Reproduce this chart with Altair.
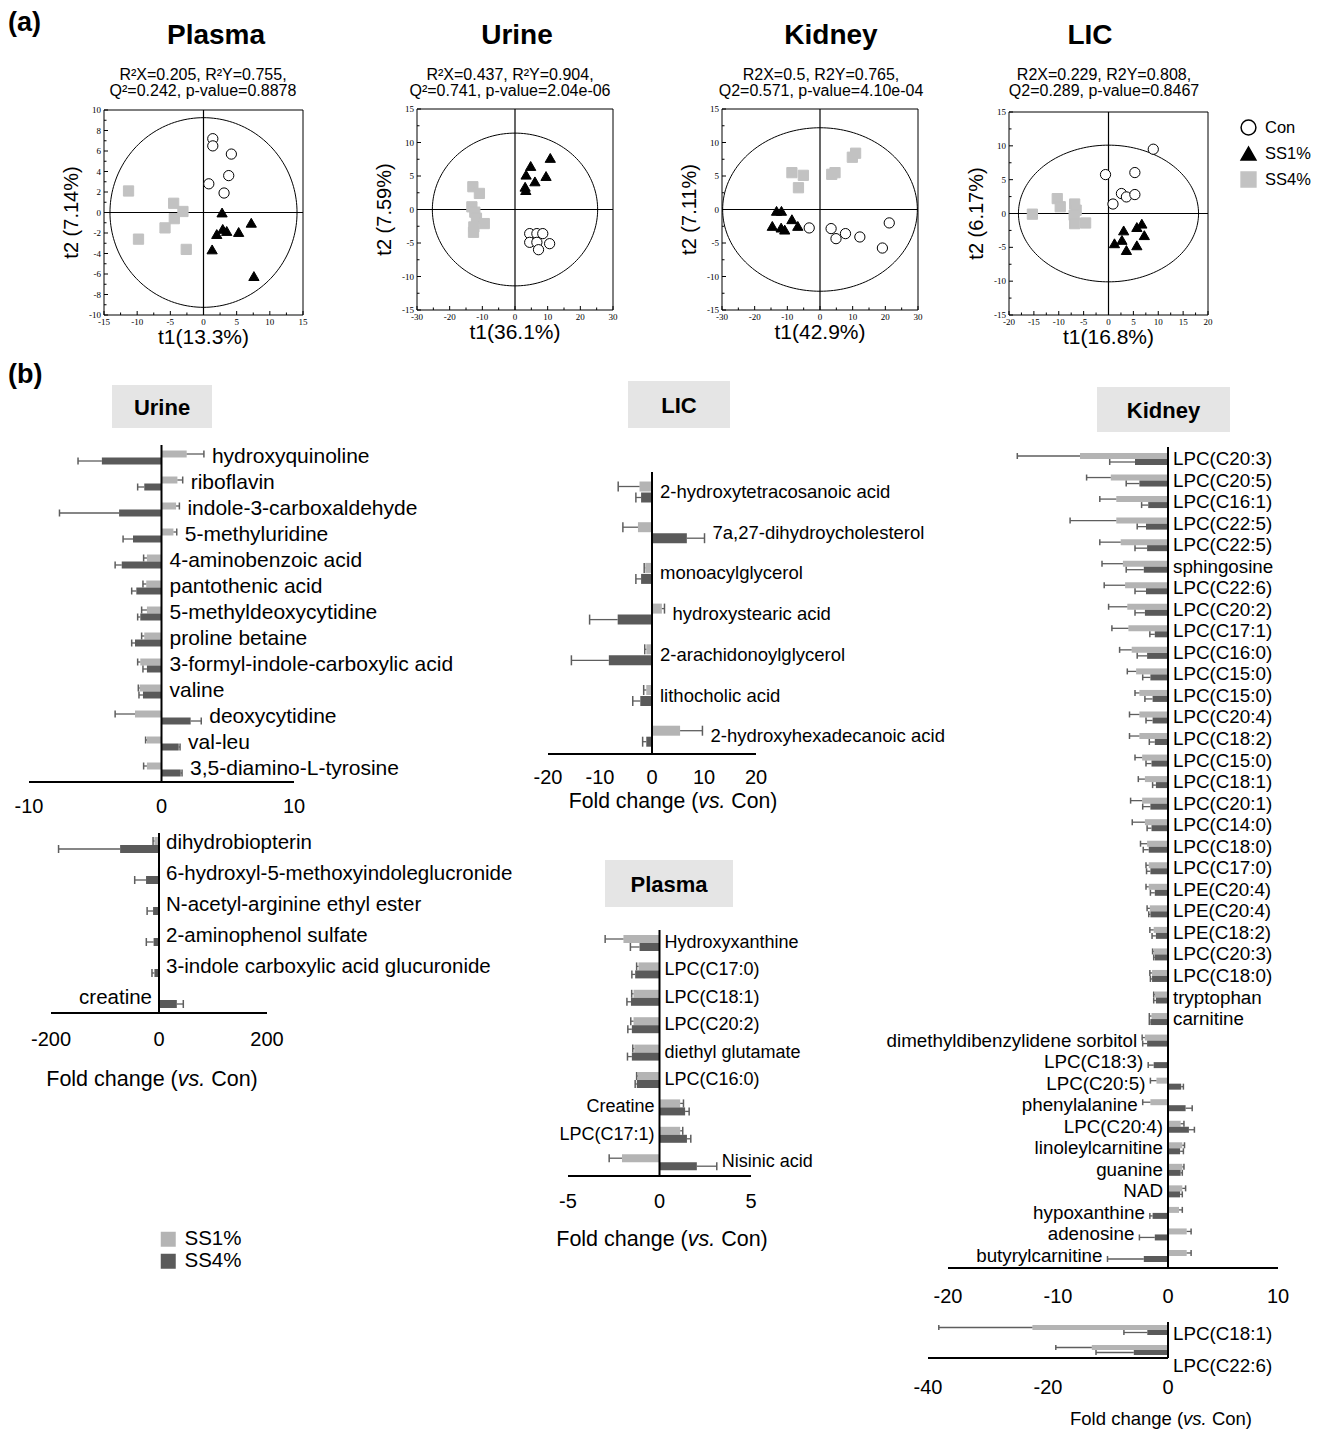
import altair as alt
import numpy as np
import pandas as pd

FONT = "Liberation Sans"
SERIF = "Liberation Serif"
LIGHT = "#b4b4b4"
DARK = "#5a5a5a"
ERRC = "#5e5e5e"
BOX = "#e5e5e5"
CW, CH = 1308, 1421          # whole drawing (page minus the 8px margins)

# ---------------- (a) score plots ----------------
plasma_con_x = [1.4, 1.4, 4.2, 3.8, 0.8, 3.1]
plasma_con_y = [7.2, 6.5, 5.7, 3.6, 2.8, 1.9]
plasma_ss1_x = [2.8, 7.2, 2.9, 3.5, 5.3, 2.0, 1.3, 7.6]
plasma_ss1_y = [0.0, -1.0, -1.6, -1.8, -1.9, -2.1, -3.6, -6.2]
plasma_ss4_x = [-11.3, -4.5, -3.1, -4.4, -5.8, -9.8, -2.6]
plasma_ss4_y = [2.1, 0.9, 0.1, -0.6, -1.5, -2.6, -3.6]

urine_con_x = [4.5, 6.7, 8.5, 4.5, 6.7, 10.6, 7.2]
urine_con_y = [-3.6, -3.6, -3.6, -4.9, -4.9, -5.1, -6.0]
urine_ss1_x = [4.8, 10.8, 3.4, 9.5, 6.1, 3.1, 3.3]
urine_ss1_y = [6.5, 7.7, 5.2, 5.0, 4.2, 3.4, 2.9]
urine_ss4_x = [-12.9, -10.9, -13.2, -12.3, -11.8, -9.4, -12.6, -12.7]
urine_ss4_y = [3.4, 2.4, 0.4, -0.4, -1.3, -2.1, -2.6, -3.4]

kidney_con_x = [-3.3, 3.4, 4.9, 7.8, 12.2, 21.2, 19.1]
kidney_con_y = [-2.75, -2.85, -4.35, -3.6, -4.1, -2.0, -5.75]
kidney_ss1_x = [-13.3, -11.8, -8.6, -14.6, -11.9, -10.8, -6.8]
kidney_ss1_y = [-0.2, -0.2, -1.45, -2.45, -2.7, -3.0, -2.45]
kidney_ss4_x = [-8.6, -5.1, -6.6, 3.6, 4.6, 9.9, 10.9]
kidney_ss4_y = [5.5, 5.1, 3.25, 5.25, 5.5, 7.8, 8.4]

lic_con_x = [9.0, -0.6, 5.3, 2.6, 3.6, 5.3, 0.9]
lic_con_y = [9.5, 5.75, 6.05, 2.95, 2.45, 2.8, 1.4]
lic_ss1_x = [6.7, 5.7, 3.05, 7.2, 2.7, 1.2, 5.7, 3.6]
lic_ss1_y = [-1.5, -2.0, -2.5, -3.2, -3.9, -4.4, -4.7, -5.4]
lic_ss4_x = [-15.3, -10.3, -9.7, -6.8, -6.5, -6.9, -6.8, -4.6]
lic_ss4_y = [-0.1, 2.2, 1.0, 1.4, 0.5, -0.25, -1.5, -1.4]

GROUPS = ["Con", "SS1%", "SS4%"]
DIETS = ["SS1%", "SS4%"]

# ---------------- (b) fold-change bars ----------------
urine1_names = ["hydroxyquinoline", "riboflavin", "indole-3-carboxaldehyde", "5-methyluridine",
                "4-aminobenzoic acid", "pantothenic acid", "5-methyldeoxycytidine", "proline betaine",
                "3-formyl-indole-carboxylic acid", "valine", "deoxycytidine", "val-leu",
                "3,5-diamino-L-tyrosine"]
urine1_ss1 = [1.9, 1.2, 1.1, 0.9, -1.1, -1.15, -1.1, -1.3, -1.6, -1.65, -2.0, -1.1, -1.1]
urine1_ss1_err = [1.3, 0.4, 0.25, 0.25, 0.25, 0.25, 0.4, 0.2, 0.2, 0.1, 1.5, 0.1, 0.25]
urine1_ss4 = [-4.5, -1.3, -3.2, -2.15, -3.0, -1.9, -1.6, -2.0, -1.1, -1.4, 2.2, 1.3, 1.45]
urine1_ss4_err = [1.8, 0.5, 4.5, 0.75, 0.5, 0.35, 0.2, 0.25, 0.3, 0.3, 0.8, 0.1, 0.1]
urine1_side = ["R"] * 13

urine2_names = ["dihydrobiopterin", "6-hydroxyl-5-methoxyindoleglucronide", "N-acetyl-arginine ethyl ester",
                "2-aminophenol sulfate", "3-indole carboxylic acid glucuronide", "creatine"]
urine2_ss1 = [-8.5, -2.0, -1.0, -1.0, -1.0, 1.0]
urine2_ss1_err = [2.5, 0, 0, 0, 0, 0]
urine2_ss4 = [-72.0, -24.0, -11.0, -10.0, -8.5, 33.0]
urine2_ss4_err = [114.0, 21.0, 11.0, 13.5, 4.5, 12.0]
urine2_side = ["R", "R", "R", "R", "R", "L"]

lic_names = ["2-hydroxytetracosanoic acid", "7a,27-dihydroycholesterol", "monoacylglycerol",
             "hydroxystearic acid", "2-arachidonoylglycerol", "lithocholic acid",
             "2-hydroxyhexadecanoic acid"]
lic_ss1 = [-2.4, -2.7, -1.3, 1.9, -1.1, -1.1, 5.4]
lic_ss1_err = [4.1, 2.9, 0.2, 0.5, 0.3, 0.5, 4.3]
lic_ss4 = [-2.1, 6.7, -2.1, -6.6, -8.3, -2.25, -1.1]
lic_ss4_err = [1.0, 3.4, 1.0, 5.4, 7.2, 1.45, 0.7]
lic_side = ["R"] * 7

plasma_names = ["Hydroxyxanthine", "LPC(C17:0)", "LPC(C18:1)", "LPC(C20:2)", "diethyl glutamate",
                "LPC(C16:0)", "Creatine", "LPC(C17:1)", "Nisinic acid"]
plasma_ss1 = [-1.97, -1.15, -1.42, -1.42, -1.38, -1.2, 1.13, 1.13, -2.05]
plasma_ss1_err = [1.0, 0.1, 0.1, 0.15, 0.08, 0.05, 0.18, 0.14, 0.7]
plasma_ss4 = [-1.09, -1.33, -1.56, -1.51, -1.51, -1.24, 1.4, 1.5, 2.04]
plasma_ss4_err = [0.5, 0.18, 0.22, 0.22, 0.24, 0.09, 0.22, 0.21, 1.09]
plasma_side = ["R", "R", "R", "R", "R", "R", "L", "L", "R"]

kidney1_names = ["LPC(C20:3)", "LPC(C20:5)", "LPC(C16:1)", "LPC(C22:5)", "LPC(C22:5)", "sphingosine",
                 "LPC(C22:6)", "LPC(C20:2)", "LPC(C17:1)", "LPC(C16:0)", "LPC(C15:0)", "LPC(C15:0)",
                 "LPC(C20:4)", "LPC(C18:2)", "LPC(C15:0)", "LPC(C18:1)", "LPC(C20:1)", "LPC(C14:0)",
                 "LPC(C18:0)", "LPC(C17:0)", "LPE(C20:4)", "LPE(C20:4)", "LPE(C18:2)", "LPC(C20:3)",
                 "LPC(C18:0)", "tryptophan", "carnitine", "dimethyldibenzylidene sorbitol", "LPC(C18:3)",
                 "LPC(C20:5)", "phenylalanine", "LPC(C20:4)", "linoleylcarnitine", "guanine", "NAD",
                 "hypoxanthine", "adenosine", "butyrylcarnitine"]
kidney1_ss1 = [-8.0, -5.2, -4.7, -4.7, -4.3, -4.1, -3.9, -3.7, -3.6, -3.3, -2.9, -2.6, -2.6, -2.6,
               -2.35, -2.1, -2.35, -2.1, -1.9, -1.75, -1.75, -1.65, -1.3, -1.3, -1.45, -1.2, -1.5,
               -2.1, 0.0, -1.05, -1.6, 1.15, 1.3, 1.3, 1.3, 1.0, 1.7, 1.7]
kidney1_ss1_err = [5.7, 2.2, 1.5, 4.2, 1.9, 1.9, 1.9, 1.7, 1.5, 1.1, 0.8, 0.4, 0.9, 0.9, 0.65, 0.6,
                   1.05, 1.15, 0.6, 0.25, 0.25, 0.25, 0.35, 0.1, 0.2, 0.1, 0.2, 0.25, 0.0, 0.55, 0.7,
                   0.3, 0.2, 0.15, 0.3, 0.3, 0.4, 0.4]
kidney1_ss4 = [-3.0, -2.6, -1.8, -2.0, -1.9, -2.2, -2.0, -2.1, -1.2, -1.9, -1.6, -1.4, -1.4, -1.2,
               -1.5, -1.1, -1.6, -1.5, -1.75, -1.6, -1.2, -1.6, -1.1, -1.2, -1.45, -1.1, -1.6, -1.9,
               -1.3, 1.2, 1.6, 1.9, 1.1, 1.15, 1.1, -1.4, -1.2, -2.2]
kidney1_ss4_err = [2.3, 1.2, 0.6, 0.8, 1.1, 1.6, 1.0, 0.9, 0.45, 0.9, 0.7, 0.7, 0.6, 0.5, 0.5, 0.3,
                   0.7, 0.4, 0.5, 0.35, 0.4, 0.15, 0.35, 0.1, 0.15, 0.2, 0.1, 0.4, 0.5, 0.2, 0.6,
                   0.5, 0.3, 0.15, 0.2, 0.25, 1.4, 3.3]
kidney1_side = ["R"] * 27 + ["L"] * 11

kidney2_names = ["LPC(C18:1)", "LPC(C22:6)"]
kidney2_ss1 = [-22.6, -12.7]
kidney2_ss1_err = [15.6, 6.0]
kidney2_ss4 = [-3.45, -5.7]
kidney2_ss4_err = [3.9, 6.3]
kidney2_side = ["R", "R"]

ONE = pd.DataFrame({"k": [0]})

score_legend = dict(title=None, orient="none", legendX=1232, legendY=111, labelFontSize=16.5,
                    labelFont=FONT, labelColor="black", symbolSize=220, symbolStrokeWidth=1.5,
                    rowPadding=6, labelOffset=8)
bar_legend = dict(title=None, orient="none", legendX=150, legendY=1221, symbolType="square",
                  symbolSize=225, symbolStrokeWidth=0, labelFontSize=20.5, labelFont=FONT,
                  labelColor="black", rowPadding=1, labelOffset=6)


def scale(dom, rng):
    return alt.Scale(domain=dom, range=rng, nice=False, zero=False, padding=0)


def txt(text, px, py, fs, weight="normal", align="left", baseline="middle", style="normal", angle=0,
        font=FONT):
    """decoration text at page coordinates"""
    return alt.Chart(ONE).mark_text(text=text, align=align, baseline=baseline, fontSize=fs,
                                    fontWeight=weight, fontStyle=style, font=font, angle=angle,
                                    color="black").encode(x=alt.value(px - 8), y=alt.value(py - 8))


def title_box(label, x0, x1, y0, y1, fs=22):
    rect = alt.Chart(ONE).mark_rect(color=BOX).encode(
        x=alt.value(x0 - 8), x2=alt.value(x1 - 8), y=alt.value(y0 - 8), y2=alt.value(y1 - 8))
    return [rect, txt(label, (x0 + x1) / 2, (y0 + y1) / 2 + 1, fs, weight="bold", align="center")]


def fold_title(cx, cy, fs):
    # advance widths of Liberation Sans (Arial metrics)
    w1, w2, wsp, w3 = 6.114 * fs, 1.278 * fs, 0.278 * fs, 2.167 * fs
    x0 = cx - (w1 + w2 + wsp + w3) / 2
    return [txt("Fold change (", x0, cy, fs),
            txt("vs.", x0 + w1, cy, fs, style="italic"),
            txt("Con)", x0 + w1 + w2 + wsp, cy, fs)]


def score_plot(title, tcx, sub, scx, xtitle, ytitle, box, xdom, ydom, xstep, xlab, ystep, ylab, ea, eb, pts):
    L, T, R, B = box
    cx, cy, sx, sy, qx, qy = pts
    rows = []
    for g, xs_, ys_ in (("Con", cx, cy), ("SS1%", sx, sy), ("SS4%", qx, qy)):
        for a, b in zip(xs_, ys_):
            rows.append({"t1": a, "t2": b, "grp": g})
    df = pd.DataFrame(rows)
    xs = scale(xdom, [L - 8, R - 8])
    ys = scale(ydom, [B - 8, T - 8])
    X = lambda f: alt.X(f, scale=xs, axis=None)
    Y = lambda f: alt.Y(f, scale=ys, axis=None)

    t = np.linspace(0, 2 * np.pi, 181)
    ell = pd.DataFrame({"k": np.arange(len(t)), "t1": ea * np.cos(t), "t2": eb * np.sin(t)})
    ell_l = alt.Chart(ell).mark_line(color="black", strokeWidth=1).encode(
        x=X("t1:Q"), y=Y("t2:Q"), order="k:Q")
    lim = pd.DataFrame({"z": [0.0], "x0": [xdom[0]], "x1": [xdom[1]], "y0": [ydom[0]], "y1": [ydom[1]]})
    frame = alt.Chart(lim).mark_rect(fillOpacity=0, stroke="black", strokeWidth=1).encode(
        x=X("x0:Q"), x2="x1:Q", y=Y("y0:Q"), y2="y1:Q")
    vline = alt.Chart(lim).mark_rule(color="black", strokeWidth=1.2).encode(
        x=X("z:Q"), y=Y("y0:Q"), y2="y1:Q")
    hline = alt.Chart(lim).mark_rule(color="black", strokeWidth=1.2).encode(
        y=Y("z:Q"), x=X("x0:Q"), x2="x1:Q")

    # axis ticks (inward, as in the figure) and labels
    xt = [float(v) for v in np.arange(xdom[0], xdom[1] + xstep / 2, xstep)]
    yt = [float(v) for v in np.arange(ydom[0], ydom[1] + ystep / 2, ystep)]
    xtd = pd.DataFrame({"v": xt, "y0": [ydom[0]] * len(xt),
                        "major": [abs(v % xlab) < 0.01 for v in xt], "lab": [f"{v:g}" for v in xt]})
    ytd = pd.DataFrame({"v": yt, "x0": [xdom[0]] * len(yt),
                        "major": [abs(v % ylab) < 0.01 for v in yt], "lab": [f"{v:g}" for v in yt]})
    layers = []
    for flt, ln in (("datum.major", 4), ("!datum.major", 2.5)):
        layers.append(alt.Chart(xtd).transform_filter(flt).mark_rule(color="black", strokeWidth=1).encode(
            x=X("v:Q"), y=Y("y0:Q"), y2=alt.value(B - 8 - ln)))
        layers.append(alt.Chart(ytd).transform_filter(flt).mark_rule(color="black", strokeWidth=1).encode(
            y=Y("v:Q"), x=X("x0:Q"), x2=alt.value(L - 8 + ln)))
    layers.append(alt.Chart(xtd).transform_filter("datum.major").mark_text(
        font=SERIF, fontSize=9, baseline="top", align="center", color="black").encode(
        x=X("v:Q"), y=alt.value(B - 8 + 3), text="lab:N"))
    layers.append(alt.Chart(ytd).transform_filter("datum.major").mark_text(
        font=SERIF, fontSize=9, baseline="middle", align="right", color="black").encode(
        y=Y("v:Q"), x=alt.value(L - 8 - 3), text="lab:N"))

    points = alt.Chart(df).mark_point(filled=True, size=105, strokeWidth=1, opacity=1).encode(
        x=X("t1:Q"), y=Y("t2:Q"),
        shape=alt.Shape("grp:N", scale=alt.Scale(domain=GROUPS, range=["circle", "triangle-up", "square"]),
                        legend=alt.Legend(**score_legend)),
        fill=alt.Fill("grp:N", scale=alt.Scale(domain=GROUPS, range=["white", "black", "#c2c2c2"]),
                      legend=alt.Legend(**score_legend)),
        stroke=alt.Stroke("grp:N", scale=alt.Scale(domain=GROUPS, range=["black", "black", "#c2c2c2"]),
                          legend=alt.Legend(**score_legend)),
    )
    deco = [txt(title, tcx, 36, 28, weight="bold", align="center"),
            txt(sub[0], scx, 75, 16, align="center"),
            txt(sub[1], scx, 91, 16, align="center"),
            txt(xtitle, (L + R) / 2, B + 23, 21, align="center"),
            txt(ytitle, L - 32, (T + B) / 2, 20, align="center", angle=270)]
    return alt.layer(ell_l, frame, vline, hline, *layers, points, *deco)


def bar_panel(names, v1, e1, v4, e4, side, xdom, xpix, xticks, axis_y, label_y, c0, step, off, thick,
              ztop, pad, fs, lab_dy, extras=()):
    n = len(names)
    ys = scale([0, n - 1], [c0 - 8, c0 - 8 + (n - 1) * step])
    xs = scale(xdom, [xpix[0] - 8, xpix[1] - 8])
    X = lambda f: alt.X(f, scale=xs, axis=None)
    Y = lambda f: alt.Y(f, scale=ys, axis=None)
    dys = lab_dy if isinstance(lab_dy, list) else [lab_dy] * n
    rows, labs = [], []
    for i in range(n):
        ends = [0.0]
        for g, v, e, o in (("SS1%", v1[i], e1[i], -off), ("SS4%", v4[i], e4[i], off)):
            sgn = 1 if v >= 0 else -1
            end = v + sgn * e
            ends += [v, end]
            rows.append({"i": i, "diet": g, "v": v, "z": 0.0, "e": e, "end": end,
                         "pos": i + o / step, "cap0": i + (o - thick / 2) / step,
                         "cap1": i + (o + thick / 2) / step})
        anchor = max(ends) if side[i] == "R" else min(ends)
        labs.append({"name": names[i], "yl": i + dys[i] / step, "ax": anchor, "side": side[i]})
    d = pd.DataFrame(rows)
    lab = pd.DataFrame(labs)
    bars = alt.Chart(d).mark_bar(size=thick, orient="horizontal").encode(
        x=X("v:Q"), x2="z:Q", y=Y("pos:Q"),
        color=alt.Color("diet:N", scale=alt.Scale(domain=DIETS, range=[LIGHT, DARK]),
                        legend=alt.Legend(**bar_legend)))
    err = alt.Chart(d).transform_filter("datum.e > 0").mark_rule(color=ERRC, strokeWidth=1.3).encode(
        x=X("v:Q"), x2="end:Q", y=Y("pos:Q"))
    cap = alt.Chart(d).transform_filter("datum.e > 0").mark_rule(color=ERRC, strokeWidth=1.5).encode(
        x=X("end:Q"), y=Y("cap0:Q"), y2="cap1:Q")
    ya = (axis_y - c0) / step
    zl = pd.DataFrame({"z": [0.0], "y0": [(ztop - c0) / step], "y1": [ya],
                       "x0": [xdom[0]], "x1": [xdom[1]]})
    zero = alt.Chart(zl).mark_rule(color="black", strokeWidth=2).encode(
        x=X("z:Q"), y=Y("y0:Q"), y2="y1:Q")
    axis_line = alt.Chart(zl).mark_rule(color="black", strokeWidth=2).encode(
        x=X("x0:Q"), x2="x1:Q", y=Y("y1:Q"))
    tdf = pd.DataFrame({"v": xticks, "lab": [str(t) for t in xticks]})
    tick_labels = alt.Chart(tdf).mark_text(font=FONT, fontSize=20, color="black", align="center",
                                           baseline="middle").encode(
        x=X("v:Q"), y=alt.value(label_y - 8), text="lab:N")
    rlab = alt.Chart(lab).transform_filter("datum.side == 'R'").mark_text(
        align="left", baseline="middle", dx=pad, fontSize=fs, font=FONT, color="black").encode(
        x=X("ax:Q"), y=Y("yl:Q"), text="name:N")
    llab = alt.Chart(lab).transform_filter("datum.side == 'L'").mark_text(
        align="right", baseline="middle", dx=-pad, fontSize=fs, font=FONT, color="black").encode(
        x=X("ax:Q"), y=Y("yl:Q"), text="name:N")
    return alt.layer(bars, err, cap, zero, axis_line, tick_labels, rlab, llab, *extras)


# ---------- (a) ----------
plasma_sc = score_plot("Plasma", 216, ["R²X=0.205, R²Y=0.755,", "Q²=0.242, p-value=0.8878"], 203,
                       "t1(13.3%)", "t2 (7.14%)", (104, 110, 303, 315), [-15, 15], [-10, 10],
                       2.5, 5, 1, 2, 14.1, 9.25,
                       (plasma_con_x, plasma_con_y, plasma_ss1_x, plasma_ss1_y, plasma_ss4_x, plasma_ss4_y))
urine_sc = score_plot("Urine", 517, ["R²X=0.437, R²Y=0.904,", "Q²=0.741, p-value=2.04e-06"], 510,
                      "t1(36.1%)", "t2 (7.59%)", (417, 109, 613, 310), [-30, 30], [-15, 15],
                      5, 10, 2.5, 5, 25.3, 11.4,
                      (urine_con_x, urine_con_y, urine_ss1_x, urine_ss1_y, urine_ss4_x, urine_ss4_y))
kidney_sc = score_plot("Kidney", 831, ["R2X=0.5, R2Y=0.765,", "Q2=0.571, p-value=4.10e-04"], 821,
                       "t1(42.9%)", "t2 (7.11%)", (722, 109, 918, 310), [-30, 30], [-15, 15],
                       5, 10, 2.5, 5, 29.8, 12.2,
                       (kidney_con_x, kidney_con_y, kidney_ss1_x, kidney_ss1_y, kidney_ss4_x, kidney_ss4_y))
lic_sc = score_plot("LIC", 1090, ["R2X=0.229, R2Y=0.808,", "Q2=0.289, p-value=0.8467"], 1104,
                    "t1(16.8%)", "t2 (6.17%)", (1009, 112, 1208, 315), [-20, 20], [-15, 15],
                    2.5, 5, 2.5, 5, 18.1, 10.1,
                    (lic_con_x, lic_con_y, lic_ss1_x, lic_ss1_y, lic_ss4_x, lic_ss4_y))

# ---------- (b) ----------
urine_top = bar_panel(urine1_names, urine1_ss1, urine1_ss1_err, urine1_ss4, urine1_ss4_err, urine1_side,
                      [-10, 10], (29, 294), [-10, 0, 10], 782, 807, 457.5, 26, 3.5, 7, 445, 8, 21, -1,
                      extras=title_box("Urine", 112, 212, 385, 428))
urine_bot = bar_panel(urine2_names, urine2_ss1, urine2_ss1_err, urine2_ss4, urine2_ss4_err, urine2_side,
                      [-200, 200], (51, 267), [-200, 0, 200], 1013, 1040, 845, 31, 4, 8, 833, 7, 20.5, -2,
                      extras=fold_title(152, 1080, 21.5))
lic_bar = bar_panel(lic_names, lic_ss1, lic_ss1_err, lic_ss4, lic_ss4_err, lic_side,
                    [-20, 20], (548, 756), [-20, -10, 0, 10, 20], 754, 778, 492, 40.7, 5.5, 10, 472, 8, 18.5, 0,
                    extras=title_box("LIC", 628, 730, 381, 428) + fold_title(673, 802, 21.2))
plasma_bar = bar_panel(plasma_names, plasma_ss1, plasma_ss1_err, plasma_ss4, plasma_ss4_err, plasma_side,
                       [-5, 5], (568, 751), [-5, 0, 5], 1176, 1202, 943, 27.4, 4, 8, 930, 5, 18, 0,
                       extras=title_box("Plasma", 605, 733, 860, 907) + fold_title(662, 1240, 21.5))
kid_top = bar_panel(kidney1_names, kidney1_ss1, kidney1_ss1_err, kidney1_ss4, kidney1_ss4_err, kidney1_side,
                    [-20, 10], (948, 1278), [-20, -10, 0, 10], 1268, 1297, 459, 21.54, 3, 6, 447, 5, 18.8, 0,
                    extras=title_box("Kidney", 1097, 1230, 387, 432))
kid_bot = bar_panel(kidney2_names, kidney2_ss1, kidney2_ss1_err, kidney2_ss4, kidney2_ss4_err, kidney2_side,
                    [-40, 0], (928, 1168), [-40, -20, 0], 1358, 1388, 1330, 20, 2.5, 5, 1322, 5, 18.8, [4, 16],
                    extras=fold_title(1161, 1419, 18.5))

labels = [txt("(a)", 8, 10, 27, weight="bold", baseline="top"),
          txt("(b)", 8, 362, 27, weight="bold", baseline="top")]

chart = alt.layer(plasma_sc, urine_sc, kidney_sc, lic_sc,
                  urine_top, urine_bot, lic_bar, plasma_bar, kid_top, kid_bot, *labels).resolve_scale(
    x="independent", y="independent").properties(
    width=CW, height=CH, padding=0, autosize=alt.AutoSizeParams(type="none")).configure(
    font=FONT).configure_view(strokeWidth=0, stroke="transparent")

chart.save("out.html", embed_options={"renderer": "svg", "actions": False})
